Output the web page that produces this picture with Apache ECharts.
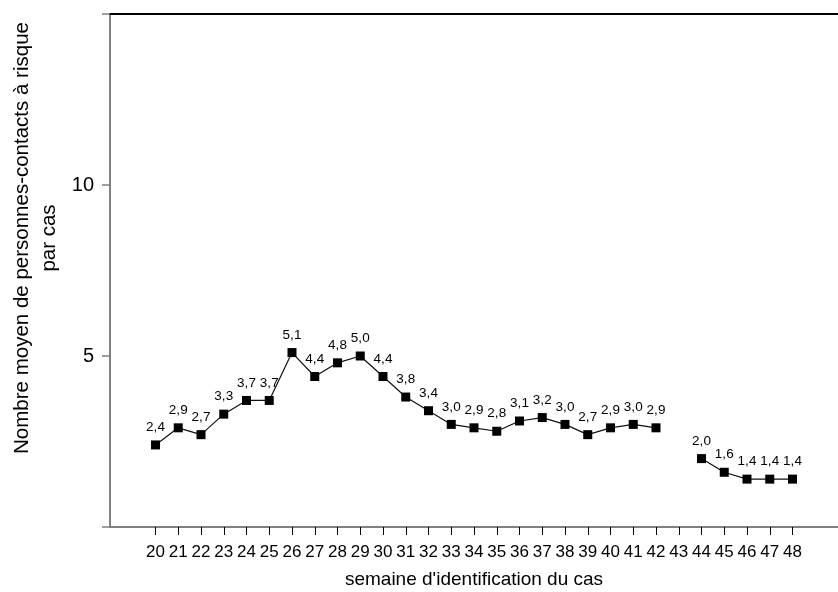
<!DOCTYPE html>
<html>
<head>
<meta charset="utf-8">
<script src="https://cdn.jsdelivr.net/npm/echarts@6/dist/echarts.min.js"></script>
<style>html,body{margin:0;padding:0;background:#fff}#c{width:838px;height:592px}</style>
</head>
<body>
<div id="c"></div>
<script>
var weeks = [20,21,22,23,24,25,26,27,28,29,30,31,32,33,34,35,36,37,38,39,40,41,42,43,44,45,46,47,48];
var values = [2.4,2.9,2.7,3.3,3.7,3.7,5.1,4.4,4.8,5.0,4.4,3.8,3.4,3.0,2.9,2.8,3.1,3.2,3.0,2.7,2.9,3.0,2.9,null,2.0,1.6,1.4,1.4,1.4];
var yTicks = [5, 10];
var xTitle = "semaine d'identification du cas";
var yTitle1 = "Nombre moyen de personnes-contacts à risque";
var yTitle2 = "par cas";

var font = 'Liberation Sans, Arial, sans-serif';
var grey = '#808080';
var seriesData = weeks.map(function (w, i) { return [w, values[i] == null ? '-' : values[i]]; });

var chart = echarts.init(document.getElementById('c'), null, {renderer: 'canvas'});
chart.setOption({
  animation: false,
  backgroundColor: '#fff',
  grid: {left: 110, right: 0, top: 14, bottom: 65, outerBoundsMode: 'none', containLabel: false},
  xAxis: [{
    type: 'value', min: 18, max: 50, interval: 1,
    splitLine: {show: false},
    axisLine: {show: true, onZero: false, lineStyle: {color: grey, width: 2}},
    axisTick: {show: true, length: 8, customValues: weeks, lineStyle: {color: '#000', width: 1}},
    axisLabel: {customValues: weeks, margin: 17, color: '#000', fontSize: 17, fontFamily: font},
    name: xTitle, nameLocation: 'middle', nameGap: 43,
    nameTextStyle: {color: '#000', fontSize: 19, fontFamily: font}
  }, {
    type: 'value', min: 18, max: 50, position: 'top',
    splitLine: {show: false},
    axisLine: {show: true, onZero: false, lineStyle: {color: '#000', width: 2}},
    axisTick: {show: false}, axisLabel: {show: false}
  }],
  yAxis: {
    type: 'value', min: 0, max: 15, interval: 5,
    splitLine: {show: false},
    axisLine: {show: true, onZero: false, lineStyle: {color: grey, width: 2}},
    axisTick: {show: true, length: 8, customValues: [0, 5, 10, 15], lineStyle: {color: grey, width: 1.5}},
    axisLabel: {customValues: yTicks, margin: 16, color: '#000', fontSize: 20, fontFamily: font}
  },
  graphic: [{
    type: 'text', x: 22, y: 238, rotation: Math.PI / 2,
    style: {text: yTitle1, fill: '#000', font: '20.5px ' + font, align: 'center', verticalAlign: 'middle'}
  }, {
    type: 'text', x: 49, y: 238, rotation: Math.PI / 2,
    style: {text: yTitle2, fill: '#000', font: '20.5px ' + font, align: 'center', verticalAlign: 'middle'}
  }],
  series: [{
    type: 'line',
    data: seriesData,
    connectNulls: false,
    symbol: 'rect', symbolSize: 9,
    itemStyle: {color: '#000'},
    lineStyle: {color: '#111', width: 1.2},
    label: {
      show: true, position: 'top', distance: 6, color: '#000', fontSize: 13.5, fontFamily: font,
      formatter: function (p) { return p.value[1].toFixed(1).replace('.', ','); }
    }
  }]
});
</script>
</body>
</html>
